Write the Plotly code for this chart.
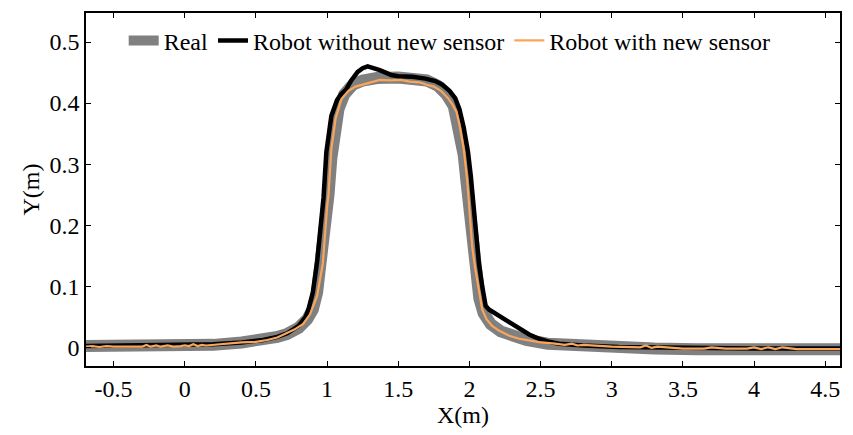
import plotly.graph_objects as go

# ---- data ----
real_x = [-0.694, -0.3, 0.0, 0.2, 0.4, 0.55, 0.65, 0.72, 0.8, 0.86, 0.9, 0.93, 0.96, 0.99, 1.01, 1.03,
          1.05, 1.08, 1.12, 1.18, 1.25, 1.35, 1.5, 1.6, 1.7, 1.78, 1.84, 1.89, 1.93, 1.96, 1.98, 2.0,
          2.02, 2.04, 2.07, 2.1, 2.15, 2.22, 2.3, 2.4, 2.55, 2.8, 3.0, 3.3, 3.6, 4.0, 4.604]
real_y = [0.002, 0.002, 0.003, 0.004, 0.008, 0.012, 0.017, 0.022, 0.032, 0.046, 0.062, 0.09, 0.14, 0.2, 0.25, 0.31,
          0.35, 0.39, 0.414, 0.43, 0.437, 0.441, 0.442, 0.441, 0.437, 0.428, 0.414, 0.395, 0.36, 0.315, 0.27, 0.22,
          0.16, 0.12, 0.08, 0.056, 0.038, 0.026, 0.018, 0.012, 0.006, 0.002, 0.0, -0.002, -0.003, -0.003, -0.003]

old_x = [-0.694, 0.0, 0.2, 0.4, 0.55, 0.65, 0.72, 0.8, 0.85, 0.87, 0.9, 0.93, 0.96, 0.975, 0.995, 1.03,
         1.07, 1.1, 1.133, 1.17, 1.215, 1.25, 1.285, 1.33, 1.37, 1.42, 1.45, 1.5, 1.6, 1.69, 1.76, 1.81,
         1.86, 1.9, 1.93, 1.96, 1.99, 2.01, 2.03, 2.05, 2.067, 2.09, 2.114, 2.137, 2.207, 2.28, 2.35, 2.42,
         2.49, 2.56, 2.63, 2.8, 3.05, 3.5, 4.0, 4.604]
old_y = [0.002, 0.003, 0.005, 0.008, 0.012, 0.017, 0.023, 0.035, 0.05, 0.063, 0.09, 0.14, 0.21, 0.245, 0.32, 0.379,
         0.405, 0.415, 0.422, 0.437, 0.451, 0.457, 0.46, 0.457, 0.454, 0.449, 0.446, 0.444, 0.443, 0.44, 0.436, 0.43,
         0.42, 0.408, 0.39, 0.36, 0.32, 0.28, 0.23, 0.17, 0.137, 0.1, 0.068, 0.062, 0.052, 0.041, 0.03, 0.021,
         0.014, 0.009, 0.006, 0.003, 0.0005, -0.001, -0.002, -0.002]

new_x = [-0.694, -0.65, -0.6, -0.55, -0.5, -0.4, -0.3, -0.27, -0.24, -0.2, -0.17, -0.12, -0.08, -0.03, 0.0,
         0.03, 0.06, 0.09, 0.12, 0.15, 0.2, 0.25, 0.3, 0.4, 0.5, 0.58, 0.65, 0.71, 0.77, 0.83, 0.88, 0.93,
         0.97, 1.0, 1.01, 1.03, 1.06, 1.1, 1.15, 1.2, 1.3, 1.37, 1.45, 1.52, 1.58, 1.65, 1.7, 1.75, 1.8,
         1.85, 1.88, 1.91, 1.93, 1.96, 1.985, 2.0, 2.02, 2.04, 2.055, 2.07, 2.09, 2.12, 2.16, 2.21, 2.28,
         2.35, 2.49, 2.6, 2.67, 2.72, 2.76, 2.8, 2.9, 3.0, 3.2, 3.24, 3.28, 3.32, 3.5, 3.65, 3.7, 3.8, 3.95,
         4.0, 4.05, 4.1, 4.15, 4.2, 4.3, 4.5, 4.604]
new_y = [0.001, 0.002, 0.0005, 0.002, 0.001, 0.0015, 0.001, 0.004, 0.001, 0.003, 0.001, 0.003, 0.001, 0.002, 0.003,
         0.002, 0.005, 0.002, 0.004, 0.003, 0.004, 0.006, 0.006, 0.008, 0.009, 0.012, 0.016, 0.022, 0.029, 0.038, 0.054, 0.084,
         0.137, 0.23, 0.25, 0.325, 0.375, 0.406, 0.42, 0.427, 0.433, 0.438, 0.437, 0.438, 0.435, 0.434, 0.43, 0.427, 0.42,
         0.408, 0.398, 0.385, 0.365, 0.325, 0.272, 0.231, 0.164, 0.13, 0.11, 0.085, 0.062, 0.046, 0.035, 0.027, 0.019,
         0.014, 0.0085, 0.006, 0.004, 0.006, 0.003, 0.004, 0.002, 0.001, 0.0, 0.003, -0.001, 0.001, -0.002, -0.002, 0.0, -0.002, -0.002,
         0.0, -0.003, 0.0, -0.003, 0.0, -0.003, -0.003, -0.003]

x_ticks = [-0.5, 0, 0.5, 1, 1.5, 2, 2.5, 3, 3.5, 4, 4.5]
x_labels = ["-0.5", "0", "0.5", "1", "1.5", "2", "2.5", "3", "3.5", "4", "4.5"]
y_ticks = [0, 0.1, 0.2, 0.3, 0.4, 0.5]
y_labels = ["0", "0.1", "0.2", "0.3", "0.4", "0.5"]

FONT = "Liberation Serif, Times New Roman, serif"

fig = go.Figure()
fig.add_trace(go.Scatter(x=real_x, y=real_y, mode="lines", name="Real",
                         line=dict(color="#808080", width=12)))
fig.add_trace(go.Scatter(x=old_x, y=old_y, mode="lines", name="Robot without new sensor",
                         line=dict(color="#000000", width=4.5)))
fig.add_trace(go.Scatter(x=new_x, y=new_y, mode="lines", name="Robot with new sensor",
                         line=dict(color="#F9A65A", width=2.2)))

axis_common = dict(showgrid=False, zeroline=False, showline=True, linecolor="black", linewidth=1.5,
                   mirror="ticks", ticks="inside", ticklen=5, tickwidth=1.3, tickcolor="black",
                   tickfont=dict(family=FONT, size=24, color="black"))

fig.update_xaxes(range=[-0.694, 4.604], tickvals=x_ticks, ticktext=x_labels,
                 title=dict(text="X(m)", font=dict(family=FONT, size=24, color="black"), standoff=6),
                 **axis_common)
fig.update_yaxes(range=[-0.0306, 0.5475], tickvals=y_ticks, ticktext=y_labels,
                 title=dict(text="Y(m)", font=dict(family=FONT, size=24, color="black"), standoff=3),
                 **axis_common)

fig.update_layout(
    width=853, height=435,
    margin=dict(l=86, r=11, t=12, b=64),
    plot_bgcolor="white", paper_bgcolor="white",
    font=dict(family=FONT, size=24, color="black"),
    showlegend=True,
    legend=dict(orientation="h", x=0.05, y=0.985, xanchor="left", yanchor="top",
                bgcolor="rgba(0,0,0,0)", borderwidth=0,
                font=dict(family=FONT, size=24, color="black")),
)

fig.write_html("out.html")
